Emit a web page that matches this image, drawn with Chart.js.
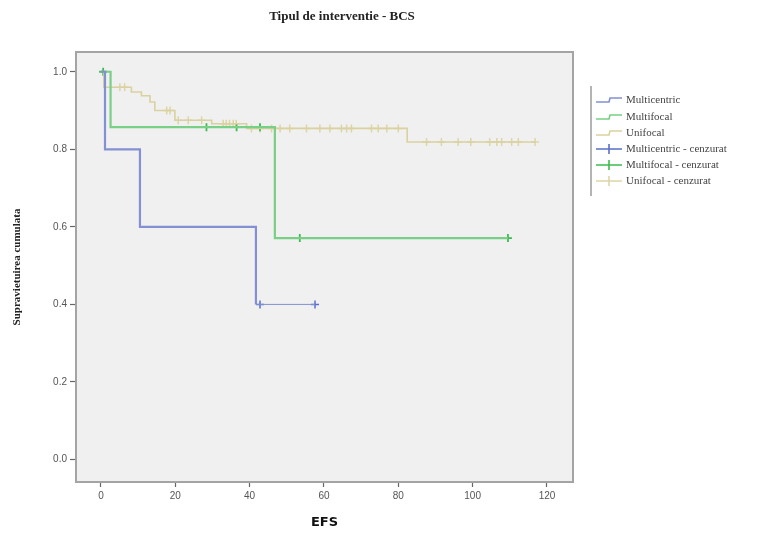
<!DOCTYPE html>
<html>
<head>
<meta charset="utf-8">
<script src="https://cdn.jsdelivr.net/npm/chart.js@4/dist/chart.umd.min.js"></script>
<style>
  html, body { margin: 0; padding: 0; background: #fff; }
  #wrap { width: 766px; height: 533px; }
</style>
</head>
<body>
<div id="wrap"><canvas id="kmChart" width="766" height="533"></canvas></div>
<script>
// Kaplan-Meier: Tipul de interventie - BCS
const seriesNames = ["Multicentric", "Multifocal", "Unifocal"];
const censorNames = ["Multicentric - cenzurat", "Multifocal - cenzurat", "Unifocal - cenzurat"];

// curbe (timp / supravietuire cumulata)
const multicentricTime = [0, 1.1, 10.5, 41.7, 57.6];
const multicentricSurv = [1.0, 0.8, 0.6, 0.4, 0.4];
const multifocalTime = [0, 2.6, 46.8, 109.5];
const multifocalSurv = [1.0, 0.857, 0.571, 0.571];
const unifocalTime = [0, 0.8, 8.2, 10.9, 13.2, 14.5, 19.9, 29.8, 39.2, 82.4, 117];
const unifocalSurv = [1.0, 0.96, 0.948, 0.938, 0.922, 0.9, 0.875, 0.866, 0.854, 0.819, 0.819];

// observatii cenzurate
const multicentricCensTime = [42.8, 57.6];
const multicentricCensSurv = [0.4, 0.4];
const multifocalCensTime = [0.6, 28.4, 36.5, 42.8, 53.5, 109.5];
const multifocalCensSurv = [1.0, 0.857, 0.857, 0.857, 0.571, 0.571];
const unifocalCensTime = [5.1, 6.4, 17.7, 18.6, 20.8, 23.5, 27.1, 32.9, 33.7, 34.6, 35.6, 36.4,
  40.5, 42.8, 45.9, 48.2, 50.8, 55.3, 58.9, 61.6, 64.7, 66.1, 67.4, 72.8, 74.6, 76.9, 80.0,
  87.6, 91.6, 96.1, 99.5, 104.6, 106.5, 107.8, 110.5, 112.3, 116.8];
const unifocalCensSurv = [0.96, 0.96, 0.9, 0.9, 0.875, 0.875, 0.875, 0.866, 0.866, 0.866, 0.866, 0.866,
  0.854, 0.854, 0.854, 0.854, 0.854, 0.854, 0.854, 0.854, 0.854, 0.854, 0.854, 0.854, 0.854, 0.854, 0.854,
  0.819, 0.819, 0.819, 0.819, 0.819, 0.819, 0.819, 0.819, 0.819, 0.819];

const xTicks = [0, 20, 40, 60, 80, 100, 120];
const yTicks = [0.0, 0.2, 0.4, 0.6, 0.8, 1.0];

const lineColors = ["#8391d2", "#79cf86", "#d9d1a0"];
const censorColors = ["#5a70c8", "#3cbc52", "#ddd5a8"];

function toPoints(xs, ys) {
  return xs.map((x, i) => ({ x: x, y: ys[i] }));
}

const lastBlue = multicentricTime.length - 2;

// in Chart.js "before" = intai orizontal, apoi vertical (treapta KM)
const datasets = [
  {
    label: seriesNames[0],
    data: toPoints(multicentricTime, multicentricSurv),
    borderColor: lineColors[0], borderWidth: 2.2,
    showLine: true, stepped: "before", pointRadius: 0,
    segment: { borderWidth: ctx => ctx.p0DataIndex === lastBlue ? 1 : 2.2 }
  },
  {
    label: seriesNames[1],
    data: toPoints(multifocalTime, multifocalSurv),
    borderColor: lineColors[1], borderWidth: 2.2,
    showLine: true, stepped: "before", pointRadius: 0
  },
  {
    label: seriesNames[2],
    data: toPoints(unifocalTime, unifocalSurv),
    borderColor: lineColors[2], borderWidth: 1.6,
    showLine: true, stepped: "before", pointRadius: 0
  },
  {
    label: censorNames[0],
    data: toPoints(multicentricCensTime, multicentricCensSurv),
    showLine: false, pointStyle: "cross", pointRadius: 4,
    borderColor: censorColors[0], borderWidth: 1.5
  },
  {
    label: censorNames[1],
    data: toPoints(multifocalCensTime, multifocalCensSurv),
    showLine: false, pointStyle: "cross", pointRadius: 4,
    borderColor: censorColors[1], borderWidth: 1.8
  },
  {
    label: censorNames[2],
    data: toPoints(unifocalCensTime, unifocalCensSurv),
    showLine: false, pointStyle: "cross", pointRadius: 4,
    borderColor: censorColors[2], borderWidth: 1.5
  }
];

// fundal gri + rama zonei de grafic
const frameBg = {
  id: "frameBg",
  beforeDatasetsDraw(chart) {
    const { ctx, chartArea: a } = chart;
    ctx.save();
    ctx.fillStyle = "#f0f0f0";
    ctx.fillRect(a.left, a.top, a.right - a.left, a.bottom - a.top);
    ctx.restore();
  },
  afterDatasetsDraw(chart) {
    const { ctx, chartArea: a } = chart;
    ctx.save();
    ctx.strokeStyle = "#a4a4a4";
    ctx.lineWidth = 2;
    ctx.strokeRect(a.left, a.top, a.right - a.left, a.bottom - a.top);
    ctx.restore();
  }
};

// titlu + legenda in stil SPSS
const spssExtras = {
  id: "spssExtras",
  afterDraw(chart) {
    const ctx = chart.ctx;
    ctx.save();
    ctx.fillStyle = "#222";
    ctx.font = "bold 13px 'Liberation Serif'";
    ctx.textAlign = "center";
    ctx.textBaseline = "middle";
    ctx.fillText("Tipul de interventie - BCS", 342, 17);

    // linie verticala legenda
    ctx.strokeStyle = "#b4b4b4";
    ctx.lineWidth = 2;
    ctx.beginPath();
    ctx.moveTo(591, 86);
    ctx.lineTo(591, 196);
    ctx.stroke();

    const rowY = [100, 117, 133, 149, 165, 181];
    ctx.font = "11px 'Liberation Serif'";
    ctx.textAlign = "left";
    ctx.fillStyle = "#444";
    rowY.forEach((y, i) => {
      const ds = chart.data.datasets[i];
      ctx.strokeStyle = ds.borderColor;
      ctx.lineWidth = 1.6;
      ctx.beginPath();
      if (i < 3) {
        ctx.moveTo(596, y + 2);
        ctx.lineTo(609, y + 2);
        ctx.lineTo(610, y - 2);
        ctx.lineTo(622, y - 2);
      } else {
        ctx.moveTo(596, y);
        ctx.lineTo(622, y);
        ctx.moveTo(609, y - 5);
        ctx.lineTo(609, y + 5);
      }
      ctx.stroke();
      ctx.fillText(ds.label, 626, y);
    });
    ctx.restore();
  }
};

new Chart(document.getElementById("kmChart"), {
  type: "scatter",
  data: { datasets: datasets },
  options: {
    responsive: false,
    animation: false,
    layout: { padding: { top: 52, right: 193, left: 0, bottom: 0 } },
    plugins: {
      legend: { display: false },
      title: { display: false },
      tooltip: { enabled: false }
    },
    scales: {
      x: {
        type: "linear",
        min: -6.7,
        max: 127,
        afterBuildTicks: s => { s.ticks = xTicks.map(v => ({ value: v })); },
        afterFit: s => { s.height = 51; },
        grid: { drawOnChartArea: false, tickLength: 5, color: "#666", tickWidth: 1.2 },
        border: { display: false },
        ticks: { color: "#555", font: { family: "'Liberation Sans'", size: 10 }, padding: 3 },
        title: {
          display: true, text: "EFS", color: "#111",
          font: { family: "'DejaVu Sans'", size: 13, weight: "bold" },
          padding: { top: 0, bottom: 3 }
        }
      },
      y: {
        type: "linear",
        min: -0.058,
        max: 1.051,
        afterBuildTicks: s => { s.ticks = yTicks.map(v => ({ value: v })); },
        afterFit: s => { s.width = 76; },
        grid: { drawOnChartArea: false, tickLength: 6, color: "#666", tickWidth: 1.2 },
        border: { display: false },
        ticks: {
          color: "#555", font: { family: "'Liberation Sans'", size: 10 }, padding: 3,
          callback: v => v.toFixed(1)
        },
        title: {
          display: true, text: "Supravietuirea cumulata", color: "#222",
          font: { family: "'Liberation Serif'", size: 11, weight: "bold" },
          padding: { top: 11, bottom: 0 }
        }
      }
    }
  },
  plugins: [frameBg, spssExtras]
});
</script>
</body>
</html>
